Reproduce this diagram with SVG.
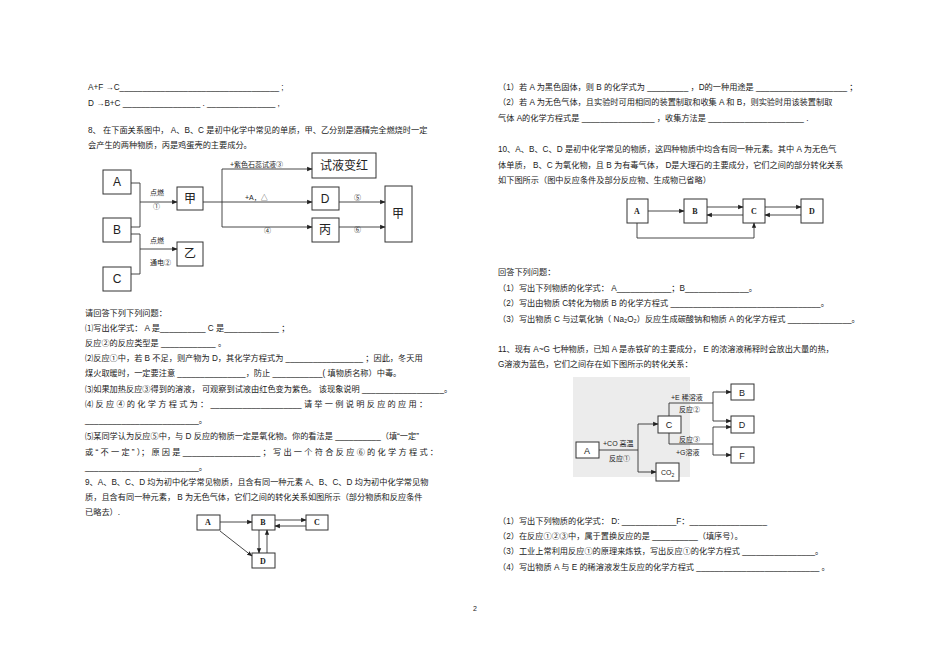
<svg xmlns="http://www.w3.org/2000/svg" width="950" height="658" viewBox="0 0 950 658">
<style>
text{font-family:"Liberation Sans","Noto Sans CJK SC",sans-serif;font-size:8.2px;fill:#222}
.b{fill:#fff;stroke:#333;stroke-width:1}
.l{fill:none;stroke:#333;stroke-width:0.9}
.n{font-size:12px;text-anchor:middle}
.s{font-size:7px}
.m{font-family:"Liberation Serif","Noto Sans CJK SC",serif;font-size:8px;font-weight:bold;text-anchor:middle}
</style>
<defs>
<marker id="a" viewBox="0 0 10 10" refX="9" refY="5" markerWidth="6" markerHeight="6" orient="auto"><path d="M0,1 L10,5 L0,9 z" fill="#222"/></marker>
</defs>
<rect width="950" height="658" fill="#fff"/>

<!-- left column text -->
<text x="88" y="90">A+F →C___________________________________ ;</text>
<text x="88" y="106">D →B+C _________________ . _______________ ,</text>
<text x="88" y="133">8、  在下面关系图中，  A、B、C 是初中化学中常见的单质，甲、乙分别是酒精完全燃烧时一定</text>
<text x="88" y="148">会产生的两种物质，丙是鸡蛋壳的主要成分。</text>

<g id="q8">
<g id="nA"><rect class="b" x="103" y="170" width="28" height="24"/><text class="n" x="117" y="186">A</text></g>
<g id="nB"><rect class="b" x="103" y="218" width="28" height="24"/><text class="n" x="117" y="234">B</text></g>
<g id="nC"><rect class="b" x="103" y="267" width="28" height="24"/><text class="n" x="117" y="283">C</text></g>
<g id="nJia"><rect class="b" x="177" y="187" width="26" height="23"/><text class="n" x="190" y="203">甲</text></g>
<g id="nYi"><rect class="b" x="177" y="242" width="26" height="24"/><text class="n" x="190" y="258">乙</text></g>
<g id="nRed"><rect class="b" x="312" y="153" width="64" height="25"/><text class="n" x="344" y="170">试液变红</text></g>
<g id="nD"><rect class="b" x="312" y="187" width="27" height="23"/><text class="n" x="325" y="203">D</text></g>
<g id="nBing"><rect class="b" x="312" y="218" width="27" height="24"/><text class="n" x="325" y="234">丙</text></g>
<g id="nJia2"><rect class="b" x="385" y="186" width="27" height="56"/><text class="n" x="398" y="218">甲</text></g>
<g id="c8">
<path class="l" d="M131,183 H140 V227 H131 M140,202 H177" marker-end="url(#a)"/>
<path class="l" d="M131,234 H140 V274 H131 M140,249 H177" marker-end="url(#a)"/>
<path class="l" d="M203,202 H222"/>
<path class="l" d="M222,169 V227"/>
<path class="l" d="M222,169 H312" marker-end="url(#a)"/>
<path class="l" d="M222,202 H312" marker-end="url(#a)"/>
<path class="l" d="M222,227 H312" marker-end="url(#a)"/>
<path class="l" d="M339,202 H385" marker-end="url(#a)"/>
<path class="l" d="M339,227 H385" marker-end="url(#a)"/>
</g>
<text class="s" x="150" y="195">点燃</text><text class="s" x="153" y="209">①</text>
<text class="s" x="150" y="243">点燃</text><text class="s" x="150" y="265">通电②</text>
<text class="s" x="230" y="167">+紫色石蕊试液③</text>
<text class="s" x="245" y="200">+A，△</text>
<text class="s" x="264" y="233">④</text>
<text class="s" x="354" y="200">⑤</text>
<text class="s" x="354" y="232">⑥</text>
</g>

<text x="85" y="316">请回答下列下列问题：</text>
<text x="85" y="331">⑴写出化学式：  A 是__________      C 是____________ ；</text>
<text x="85" y="346">反应②的反应类型是      ____________  。</text>
<text x="85" y="361">⑵反应①中，若  B 不足，则产物为  D，其化学方程式为     _________________  ；因此，冬天用</text>
<text x="85" y="376">煤火取暖时，一定要注意   _______________，防止 ___________( 填物质名称）中毒。</text>
<text x="85" y="392">⑶如果加热反应③得到的溶液，  可观察到试液由红色变为紫色。  该现象说明 __________________。</text>
<text x="85" y="407">⑷ 反 应 ④ 的 化 学 方 程 式 为 ： ____________________ 请 举 一 例 说 明 反 应 的 应 用 ：</text>
<text x="85" y="423">_________________________。</text>
<text x="85" y="439">⑸某同学认为反应⑤中，与   D 反应的物质一定是氧化物。你的看法是      __________（填“一定”</text>
<text x="85" y="455">或 “ 不 一 定 ” ）； 原 因 是 _________________ ； 写 出 一 个 符 合 反 应 ⑥ 的 化 学 方 程 式 ：</text>
<text x="85" y="470">_________________________。</text>
<text x="85" y="485">9、A、B、C、D 均为初中化学常见物质，且含有同一种元素     A、B、C、D 均为初中化学常见物</text>
<text x="85" y="500">质，且含有同一种元素，   B 为无色气体，它们之间的转化关系如图所示（部分物质和反应条件</text>
<text x="85" y="515">已略去）.</text>

<g id="q9">
<g id="n9A"><rect class="b" x="197" y="515" width="23" height="15" stroke-width="1.5"/><text class="m" x="208" y="525">A</text></g>
<g id="n9B"><rect class="b" x="252" y="515" width="23" height="15" stroke-width="1.5"/><text class="m" x="263" y="525">B</text></g>
<g id="n9C"><rect class="b" x="306" y="515" width="22" height="15" stroke-width="1.5"/><text class="m" x="317" y="525">C</text></g>
<g id="n9D"><rect class="b" x="252" y="553" width="23" height="15" stroke-width="1.5"/><text class="m" x="263" y="564">D</text></g>
<g id="c9">
<path class="l" d="M220,522 H252" marker-end="url(#a)"/>
<path class="l" d="M275,520 H306" marker-end="url(#a)"/>
<path class="l" d="M306,526 H275" marker-end="url(#a)"/>
<path class="l" d="M220,531 L252,556" marker-end="url(#a)"/>
<path class="l" d="M259,530 V553" marker-end="url(#a)"/>
<path class="l" d="M267,553 V530" marker-end="url(#a)"/>
</g>
</g>

<!-- right column -->
<text x="498" y="90">（1）若  A 为黑色固体，则  B 的化学式为  _________ ，D的一种用途是  ____________________  ；</text>
<text x="498" y="105">（2）若  A 为无色气体，且实验时可用相同的装置制取和收集     A 和 B，则实验时用该装置制取</text>
<text x="498" y="121">气体  A的化学方程式是  ________________ ，收集方法是 _____________________ .</text>
<text x="498" y="152">10、A、B、C、D 是初中化学常见的物质，这四种物质中均含有同一种元素。其中      A 为无色气</text>
<text x="498" y="168">体单质，  B、C 为氧化物，且  B 为有毒气体，  D是大理石的主要成分，它们之间的部分转化关系</text>
<text x="498" y="183">如下图所示（图中反应条件及部分反应物、生成物已省略）</text>

<g id="q10">
<g id="t10A"><rect class="b" x="627" y="199" width="21" height="24"/><text class="m" x="637" y="214">A</text></g>
<g id="t10B"><rect class="b" x="684" y="199" width="23" height="24"/><text class="m" x="695" y="214">B</text></g>
<g id="t10C"><rect class="b" x="743" y="199" width="22" height="24"/><text class="m" x="754" y="214">C</text></g>
<g id="t10D"><rect class="b" x="801" y="199" width="22" height="24"/><text class="m" x="812" y="214">D</text></g>
<g id="c10">
<path class="l" d="M648,211 H684" marker-end="url(#a)"/>
<path class="l" d="M707,207 H743" marker-end="url(#a)"/>
<path class="l" d="M743,215 H707" marker-end="url(#a)"/>
<path class="l" d="M765,207 H801" marker-end="url(#a)"/>
<path class="l" d="M801,215 H765" marker-end="url(#a)"/>
<path class="l" d="M637,223 V238 H754 V223" marker-end="url(#a)"/>
</g>
</g>

<text x="498" y="275">回答下列问题：</text>
<text x="498" y="291">（1）写出下列物质的化学式：    A____________；B______________。</text>
<text x="498" y="306">（2）写出由物质  C转化为物质  B 的化学方程式  _________________________________。</text>
<text x="498" y="322">（3）写出物质  C 与过氧化钠（  Na₂O₂）反应生成碳酸钠和物质   A 的化学方程式  ______________。</text>
<text x="498" y="352">11、现有  A~G 七种物质，已知   A 是赤铁矿的主要成分，    E 的浓溶液稀释时会放出大量的热，</text>
<text x="498" y="367">G溶液为蓝色，它们之间存在如下图所示的转化关系：</text>

<g id="q11">
<rect x="573" y="377" width="117" height="100" fill="#ececec"/>
<g id="e11A"><rect class="b" x="576" y="442" width="23" height="16"/><text class="n" x="587" y="454" style="font-size:9px">A</text></g>
<g id="e11C"><rect class="b" x="658" y="416" width="23" height="17"/><text class="n" x="669" y="428" style="font-size:9px">C</text></g>
<g id="e11CO2"><rect class="b" x="656" y="463" width="23" height="18"/><text x="661" y="475" style="font-size:7px">CO<tspan dy="2" font-size="5">2</tspan></text></g>
<g id="e11B"><rect class="b" x="731" y="384" width="23" height="16"/><text class="n" x="742" y="396" style="font-size:9px">B</text></g>
<g id="e11D"><rect class="b" x="731" y="416" width="23" height="17"/><text class="n" x="742" y="428" style="font-size:9px">D</text></g>
<g id="e11F"><rect class="b" x="731" y="447" width="23" height="16"/><text class="n" x="742" y="459" style="font-size:9px">F</text></g>
<g id="c11">
<path class="l" d="M599,450 H638 M638,424 V472"/>
<path class="l" d="M638,424 H658" marker-end="url(#a)"/>
<path class="l" d="M638,472 H656" marker-end="url(#a)"/>
<path class="l" d="M669,416 V403 H713 M713,392 V421"/>
<path class="l" d="M713,392 H731" marker-end="url(#a)"/>
<path class="l" d="M713,421 H731" marker-end="url(#a)"/>
<path class="l" d="M669,433 V444 H713 M713,427 V455"/>
<path class="l" d="M713,427 H731" marker-end="url(#a)"/>
<path class="l" d="M713,455 H731" marker-end="url(#a)"/>
</g>
<text class="s" x="603" y="446">+CO 高温</text>
<text class="s" x="609" y="461">反应①</text>
<text class="s" x="671" y="400">+E 稀溶液</text>
<text class="s" x="679" y="412">反应②</text>
<text class="s" x="679" y="442">反应③</text>
<text class="s" x="676" y="455">+G溶液</text>
</g>

<text x="498" y="524">（1）写出下列物质的化学式：    D: ____________F：_________________</text>
<text x="498" y="539">（2）在反应①②③中，属于置换反应的是     __________（填序号）。</text>
<text x="498" y="554">（3）工业上常利用反应①的原理来炼铁，写出反应①的化学方程式      ________________。</text>
<text x="498" y="570">（4）写出物质  A 与 E 的稀溶液发生反应的化学方程式    ___________________________ 。</text>

<text x="473" y="611" style="font-size:7px">2</text>
</svg>
